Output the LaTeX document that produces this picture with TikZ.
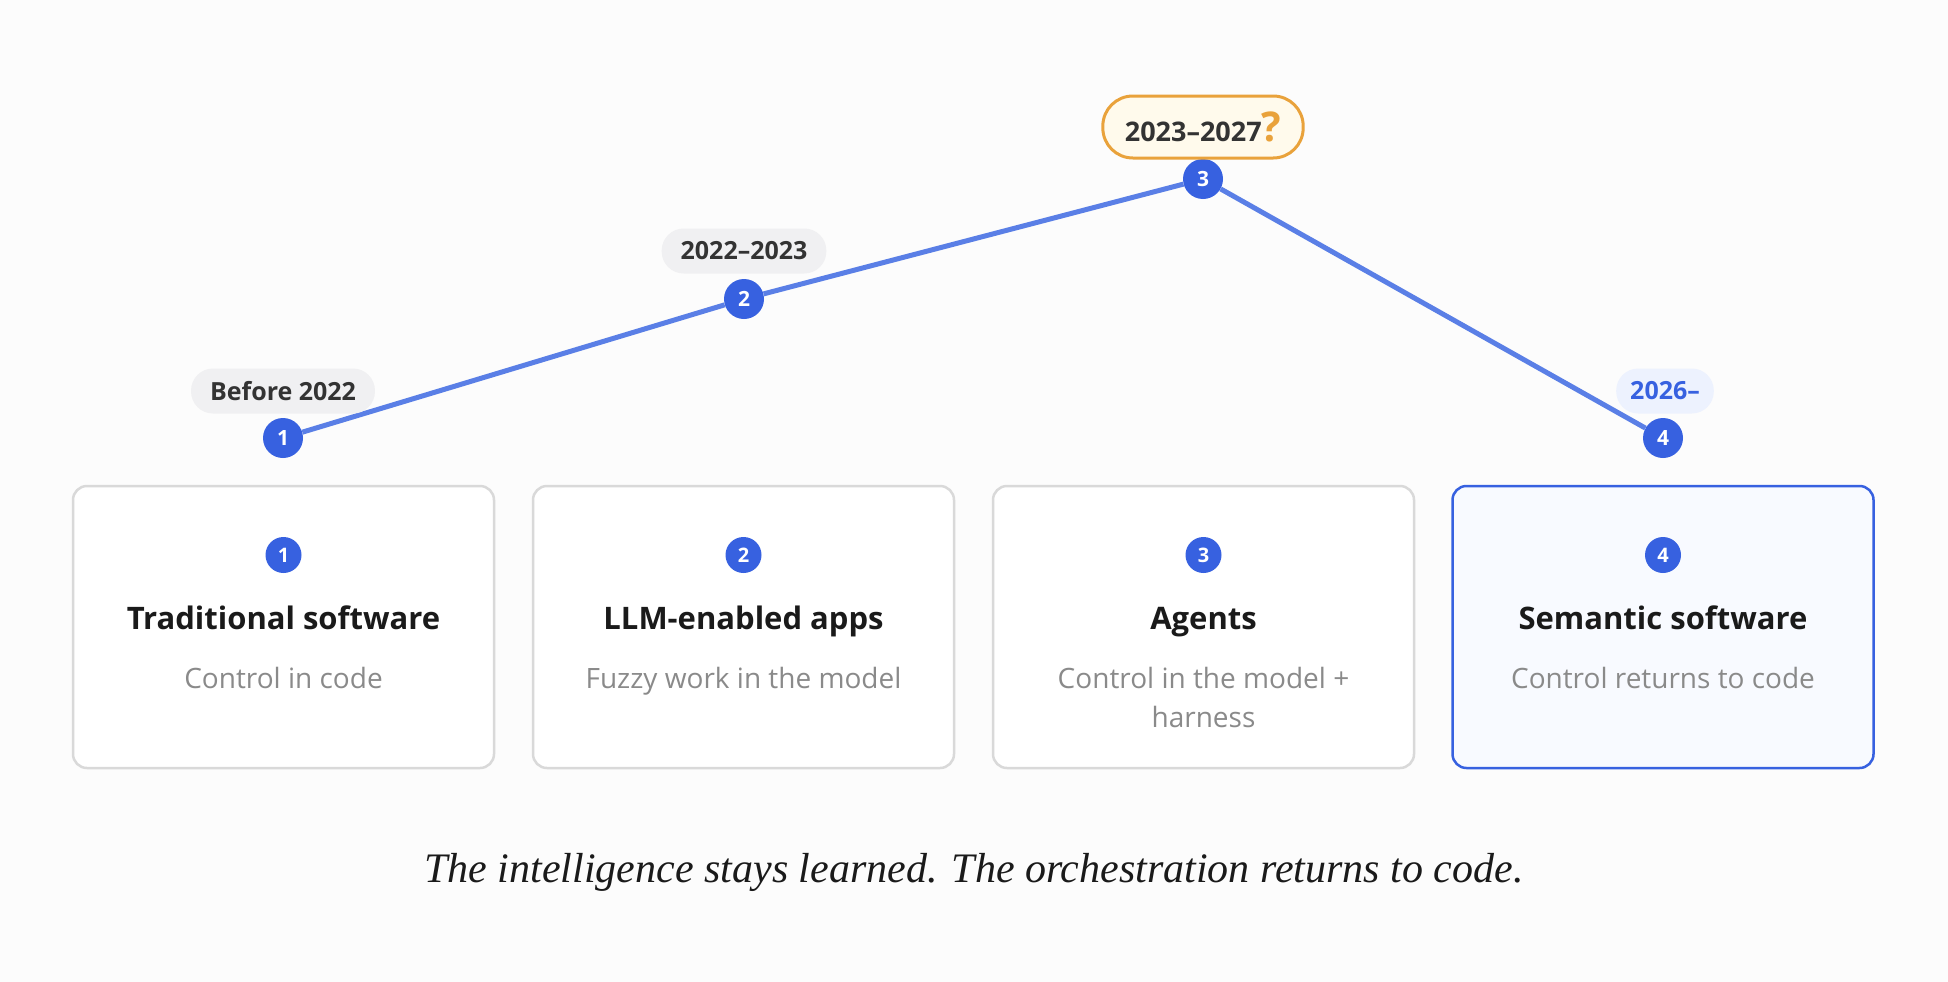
\documentclass[tikz,border=0pt]{standalone}
\usepackage{fontspec}
\setsansfont{Open Sans}
\newfontfamily\capfont{Liberation Serif}
\usetikzlibrary{positioning}

\definecolor{pagebg}{HTML}{FCFCFC}
\definecolor{markblue}{HTML}{3761E0}
\definecolor{trendblue}{HTML}{5A7FE6}
\definecolor{pillgray}{HTML}{F0F0F2}
\definecolor{pilltext}{HTML}{333333}
\definecolor{pillorange}{HTML}{E9A23B}
\definecolor{pillcream}{HTML}{FFFAEC}
\definecolor{pillblue}{HTML}{EDF2FE}
\definecolor{cardline}{HTML}{D9D9D9}
\definecolor{cardtint}{HTML}{F8FAFF}
\definecolor{titleink}{HTML}{1A1A1A}
\definecolor{noteink}{HTML}{8A8A8A}

\newcommand{\fs}[1]{\fontsize{#1}{#1}\selectfont}

\tikzset{
  badge/.style={circle, fill=markblue, text=white, inner sep=0pt,
    minimum size=40pt, font=\sffamily\bfseries\fs{21}},
  minibadge/.style={badge, minimum size=36pt, font=\sffamily\bfseries\fs{20}},
  pill/.style={rectangle, rounded corners=22pt, fill=pillgray, text=pilltext,
    minimum height=45pt, inner xsep=19pt, font=\sffamily\bfseries\fs{25}},
  card/.style={rectangle, draw=cardline, line width=2.5pt, fill=white,
    rounded corners=14pt, minimum width=421pt, minimum height=282pt},
  cardtitle/.style={anchor=base, text=titleink, font=\sffamily\bfseries\fs{31}},
  cardnote/.style={anchor=base, text=noteink, align=center,
    font=\sffamily\fontsize{28}{39}\selectfont},
  trend/.style={draw=trendblue, line width=5pt}
}

\begin{document}
\begin{tikzpicture}[x=1pt, y=-1pt]

% page and margins
\useasboundingbox[fill=pagebg] (0,0) rectangle (1948,982);

% Cards along the bottom (\y = baseline of the last note line)
\foreach \i/\x/\y/\ttl/\sub in {1/283.5/688/Traditional software/Control in code,
                                2/743.5/688/LLM-enabled apps/Fuzzy work in the model,
                                3/1203.5/727/Agents/{Control in the model +\\harness}}
{
    \node[card] (card\i) at (\x,627) {};
    \node[minibadge] (num\i) at (\x,555) {\i};
    \node[cardtitle] (title\i) at (\x,629) {\ttl};
    \node[cardnote] (note\i) at (\x,\y) {\sub};
}

% Last card, highlighted in blue
\node[card, draw=markblue, fill=cardtint] (card4) at (1663,627) {};
\node[minibadge] (num4) at (1663,555) {4};
\node[cardtitle] (title4) at (1663,629) {Semantic software};
\node[cardnote] (note4) at (1663,688) {Control returns to code};

% Markers on the trend line
\node[badge] (m1) at (283,438) {1};
\node[badge] (m2) at (744,299) {2};
\node[badge] (m3) at (1203,179) {3};
\node[badge] (m4) at (1663,438) {4};

\draw[trend] (m1) -- (m2) -- (m3) -- (m4);

% Period labels
\node[pill] (p1) at (283,391) {Before 2022};
\node[pill] (p2) at (744,251) {2022--2023};
\node[pill, fill=pillcream, draw=pillorange, line width=3pt, rounded corners=30pt,
      minimum height=62pt, inner xsep=22pt, font=\sffamily\bfseries\fs{27}] (p3) at (1203,127)
      {2023--2027\textcolor{pillorange}{\fs{41}?}};
\node[pill, fill=pillblue, text=markblue, inner xsep=14pt] (p4) at (1665,391) {2026--};

% Caption
\node[anchor=base, font=\capfont\itshape\fs{42}, text=titleink] (caption) at (974,882)
      {The intelligence stays learned. The orchestration returns to code.};

\end{tikzpicture}
\end{document}
